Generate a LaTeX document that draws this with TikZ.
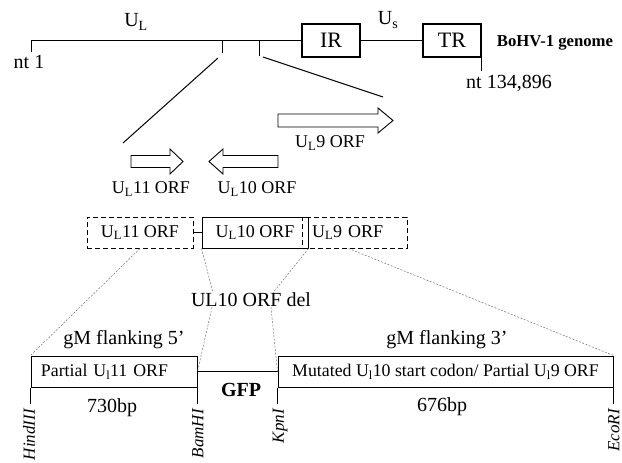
\documentclass[tikz,border=0pt]{standalone}
\usepackage{fontspec}
\setmainfont{Liberation Serif}
\usetikzlibrary{positioning, calc}
\tikzset{
  gbox/.style={draw, line width=1.1pt, minimum width=58pt, minimum height=33pt, inner sep=0pt,
    font=\fontsize{22}{24}\selectfont},
  orfbox/.style={draw, line width=1pt, minimum height=31pt, inner sep=0pt,
    font=\fontsize{18}{20}\selectfont},
  delbox/.style={orfbox, dash pattern=on 5pt off 3pt},
  flank/.style={draw, line width=1pt, minimum height=31pt, inner sep=0pt,
    font=\fontsize{17.8}{20}\selectfont},
  orf/.style={draw, line width=0.9pt, fill=white},
  big/.style={font=\fontsize{20}{24}\selectfont, inner sep=0pt},
  mid/.style={font=\fontsize{18}{22}\selectfont, inner sep=0pt},
  site/.style={font=\fontsize{17}{20}\selectfont\itshape, rotate=90, anchor=east, inner sep=0pt},
  tick/.style={line width=1pt},
  guide/.style={draw=black!55, line width=0.5pt, dash pattern=on 2pt off 1.5pt}
}
\begin{document}
\begin{tikzpicture}[x=1pt, y=-1pt]
\useasboundingbox (0,0) rectangle (622,463);
% genome
\coordinate (nt1) at (31,40.5);
\node[gbox] (ir) at (331,40.5) {IR};
\node[gbox] (tr) at (452,40.5) {TR};
\draw[tick] (nt1) -- (ir.west);
\draw[tick] (ir.east) -- (tr.west);
\draw[tick] (nt1) -- ++(0,11);
\draw[tick] (tr.south east) -- ++(0,13);
\coordinate (cutl) at (222,40.5);
\coordinate (cutr) at (259,40.5);
\draw[tick] (cutl) -- ++(0,12);
\draw[tick] (cutr) -- ++(0,15);
\node[big] (ul) at (136,22) {U\textsubscript{L}};
\node[big] (us) at (388,20) {U\textsubscript{s}};
\node[big] (ntfirst) at (29,62) {nt 1};
\node[big] (ntlast) at (509,83) {nt 134,896};
\node[font=\fontsize{16.7}{20}\selectfont\bfseries, inner sep=0pt] (gname) at (555,43) {BoHV-1 genome};
% zoom in
\coordinate (zl1) at (218,58);
\coordinate (zl2) at (123,143);
\coordinate (zr1) at (263,57);
\coordinate (zr2) at (383,97);
\draw[tick] (zl1) -- (zl2);
\draw[tick] (zr1) -- (zr2);
% ORF arrows
\draw[orf] (131,155.5) -- (170,155.5) -- (170,149) -- (183,161.5) -- (170,174) -- (170,167.5) -- (131,167.5) -- cycle;
\draw[orf] (278,155.5) -- (223,155.5) -- (223,149) -- (209,161.5) -- (223,174) -- (223,167.5) -- (278,167.5) -- cycle;
\draw[orf] (278,114) -- (378,114) -- (378,108) -- (393,120.5) -- (378,133) -- (378,127) -- (278,127) -- cycle;
\node[mid] (a11) at (151,189) {U\textsubscript{L}11 ORF};
\node[mid] (a10) at (257,189) {U\textsubscript{L}10 ORF};
\node[mid] (a9) at (330,143) {U\textsubscript{L}9 ORF};
% deletion row
\node[delbox, minimum width=106pt] (u11) at (140,232.5) {U\textsubscript{L}11 ORF};
\node[orfbox, minimum width=106pt] (u10) at (255,232.5) {U\textsubscript{L}10 ORF};
\node[delbox, text width=85pt, align=left, inner xsep=10pt] (u9) at (354.5,232.5) {U\textsubscript{L}9 ORF};
\draw[tick] (u11.east) -- (u10.west);
\node[big] (del) at (251,300) {UL10 ORF del};
% construct
\node[flank, text width=146pt, align=left, inner xsep=10pt] (fivep) at (114,371.5) {Partial U\textsubscript{l}11 ORF};
\node[flank, minimum width=335pt] (threep) at (445.5,371.5) {Mutated U\textsubscript{l}10 start codon/ Partial U\textsubscript{l}9 ORF};
\draw[tick] (fivep.east) -- (threep.west);
\node[font=\fontsize{20}{24}\selectfont\bfseries, inner sep=0pt] (gfp) at (241,390) {GFP};
\node[big] (fl5) at (124,340) {gM flanking 5’};
\node[big] (fl3) at (447,340) {gM flanking 3’};
\node[big] (bp5) at (112,408) {730bp};
\node[big] (bp3) at (442,407) {676bp};
\draw[tick] (fivep.south west) -- ++(0,16);
\draw[tick] (fivep.south east) -- ++(0,16);
\draw[tick] (threep.south west) -- ++(0,16);
\draw[tick] (threep.south east) -- ++(0,16);
\node[site] (hind) at (29,409) {HindIII};
\node[site] (bam) at (198,409) {BamHI};
\node[site] (kpn) at (280,409) {KpnI};
\node[site] (eco) at (614,409) {EcoRI};
% guides
\draw[guide] (u11.south) -- (fivep.north west);
\draw[guide] (u10.south west) -- ($(del.north)+(-38,0)$);
\draw[guide] ($(del.south)+(-39,0)$) -- (fivep.east);
\draw[guide] (u10.south east) -- ($(del.north)+(22,0)$);
\draw[guide] ($(del.south)+(20,0)$) -- (threep.west);
\draw[guide] ($(u9.south)+(-6,0)$) -- (threep.north east);
\end{tikzpicture}
\end{document}
